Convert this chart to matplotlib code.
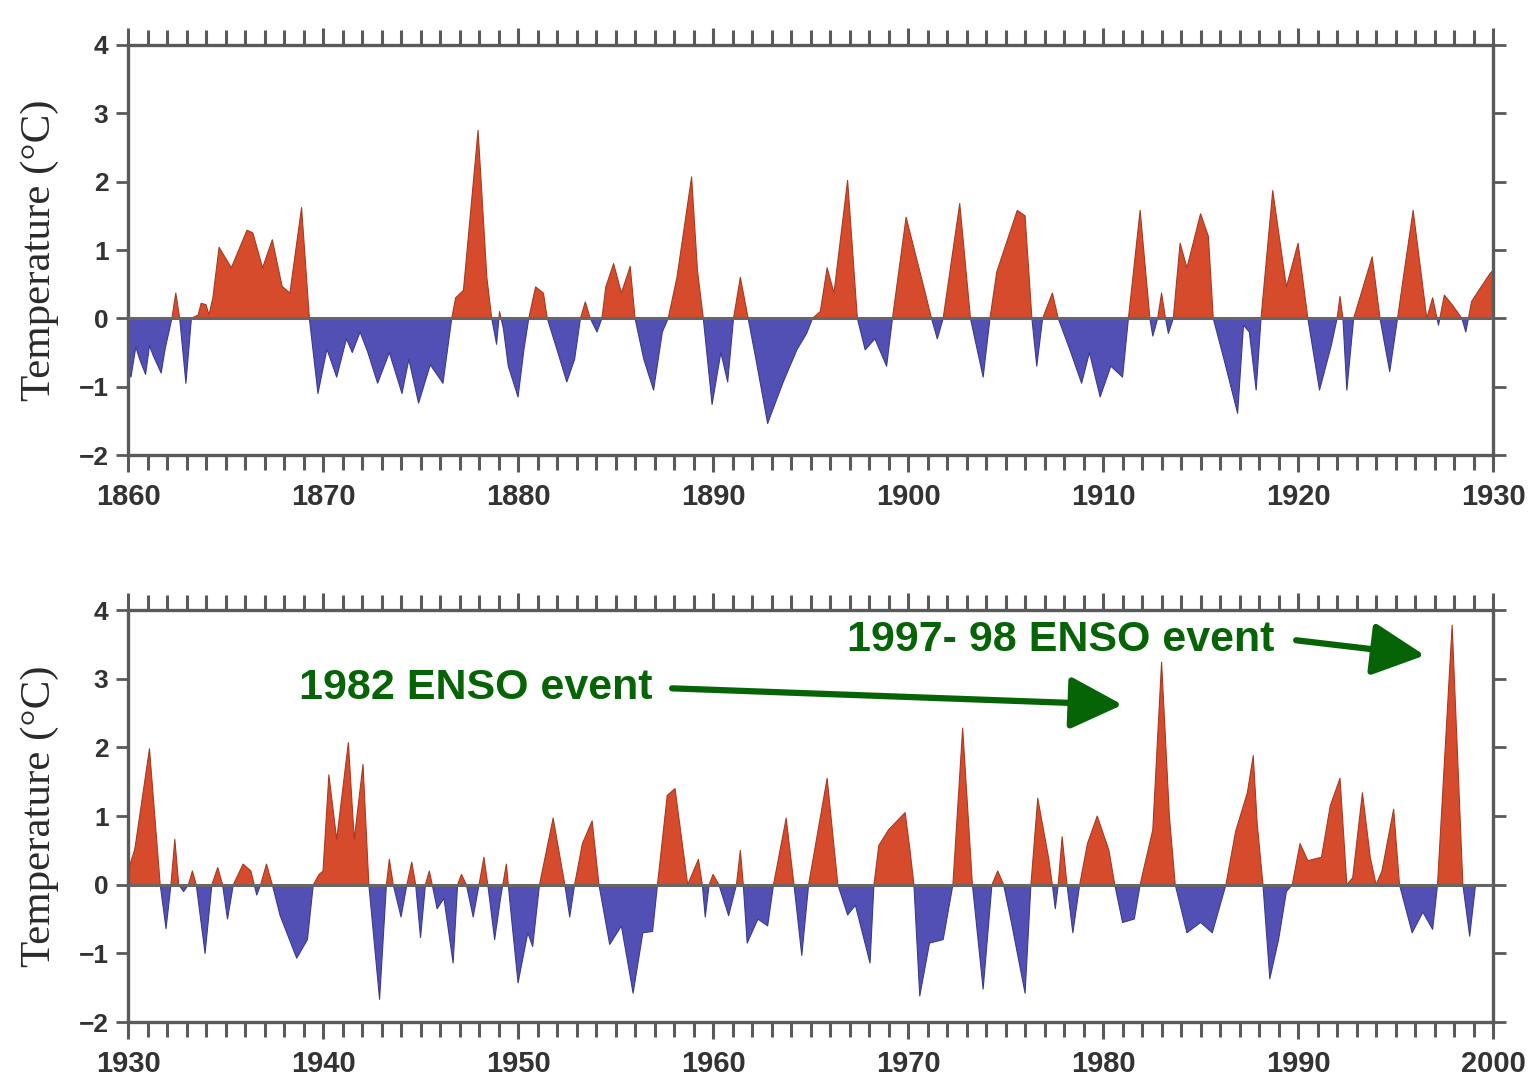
import numpy as np
import matplotlib
matplotlib.use("Agg")
import matplotlib.pyplot as plt
from matplotlib.ticker import MultipleLocator

# ---------------- data ----------------
years_1860 = [1860.0, 1860.15, 1860.4, 1860.6, 1860.9, 1861.1, 1861.3, 1861.7, 1861.9, 1862.25,
              1862.45, 1862.65, 1862.97, 1863.25, 1863.6, 1863.75, 1864.0, 1864.15, 1864.35, 1864.67,
              1865.3, 1866.1, 1866.4, 1866.9, 1867.4, 1867.9, 1868.3, 1868.9, 1869.3, 1869.74,
              1870.2, 1870.7, 1871.2, 1871.5, 1871.9, 1872.3, 1872.8, 1873.4, 1874.05, 1874.4,
              1874.9, 1875.5, 1876.15, 1876.6, 1876.8, 1877.2, 1877.95, 1878.4, 1878.65, 1878.9,
              1879.05, 1879.25, 1879.5, 1880.0, 1880.3, 1880.55, 1880.9, 1881.3, 1881.5, 1882.0,
              1882.5, 1882.9, 1883.2, 1883.45, 1883.7, 1884.05, 1884.3, 1884.5, 1884.9, 1885.3,
              1885.75, 1886.0, 1886.45, 1886.95, 1887.4, 1887.7, 1888.15, 1888.9, 1889.2, 1889.5,
              1889.95, 1890.4, 1890.75, 1891.05, 1891.4, 1891.8, 1892.2, 1892.8, 1892.9, 1893.6,
              1894.3, 1894.8, 1895.1, 1895.5, 1895.85, 1896.2, 1896.9, 1897.4, 1897.8, 1898.3,
              1898.9, 1899.2, 1899.9, 1900.9, 1901.2, 1901.5, 1901.8, 1902.65, 1903.2, 1903.85,
              1904.2, 1904.55, 1905.6, 1906.0, 1906.35, 1906.6, 1906.9, 1907.4, 1907.7, 1908.3,
              1908.9, 1909.3, 1909.85, 1910.4, 1911.0, 1911.3, 1911.9, 1912.4, 1912.55, 1912.8,
              1913.0, 1913.2, 1913.35, 1913.6, 1913.95, 1914.3, 1915.0, 1915.4, 1915.65, 1916.2,
              1916.9, 1917.2, 1917.5, 1917.85, 1918.1, 1918.7, 1919.4, 1920.0, 1920.5, 1921.1,
              1921.7, 1922.0, 1922.15, 1922.3, 1922.5, 1922.85, 1923.8, 1924.2, 1924.7, 1925.1,
              1925.4, 1925.9, 1926.6, 1926.9, 1927.2, 1927.5, 1927.9, 1928.4, 1928.6, 1928.9,
              1929.85, 1930.0]
temps_1860 = [-0.75, -0.86, -0.42, -0.6, -0.82, -0.4, -0.55, -0.8, -0.45, 0.0,
              0.37, 0.0, -0.95, 0.0, 0.05, 0.22, 0.2, 0.05, 0.3, 1.04,
              0.74, 1.29, 1.25, 0.74, 1.15, 0.47, 0.37, 1.62, 0.0, -1.1,
              -0.45, -0.86, -0.3, -0.5, -0.2, -0.5, -0.95, -0.5, -1.1, -0.6,
              -1.24, -0.68, -0.95, 0.0, 0.3, 0.41, 2.75, 0.6, 0.0, -0.38,
              0.1, -0.15, -0.7, -1.15, -0.46, 0.0, 0.46, 0.37, 0.0, -0.46,
              -0.93, -0.6, 0.0, 0.24, 0.0, -0.2, 0.0, 0.46, 0.8, 0.37,
              0.76, 0.0, -0.6, -1.05, -0.2, 0.0, 0.6, 2.07, 0.7, 0.0,
              -1.26, -0.5, -0.93, 0.0, 0.6, 0.0, -0.6, -1.54, -1.46, -0.93,
              -0.46, -0.22, 0.0, 0.1, 0.74, 0.37, 2.02, 0.0, -0.46, -0.3,
              -0.7, 0.0, 1.48, 0.35, 0.0, -0.3, 0.0, 1.68, 0.0, -0.86,
              0.0, 0.68, 1.58, 1.5, 0.0, -0.7, 0.0, 0.37, 0.0, -0.46,
              -0.95, -0.5, -1.15, -0.7, -0.86, 0.0, 1.58, 0.0, -0.26, 0.0,
              0.37, 0.0, -0.22, 0.0, 1.1, 0.74, 1.53, 1.2, 0.0, -0.6,
              -1.39, -0.1, -0.2, -1.05, 0.0, 1.87, 0.46, 1.1, 0.0, -1.05,
              -0.4, 0.0, 0.32, 0.0, -1.05, 0.0, 0.9, 0.0, -0.78, 0.0,
              0.6, 1.58, 0.0, 0.3, -0.1, 0.34, 0.2, 0.0, -0.2, 0.25,
              0.66, 0.7]

years_1930 = [1930.0, 1930.35, 1931.1, 1931.65, 1931.95, 1932.2, 1932.4, 1932.6, 1932.85, 1933.1,
              1933.3, 1933.5, 1933.95, 1934.3, 1934.6, 1934.85, 1935.1, 1935.4, 1935.9, 1936.3,
              1936.6, 1936.8, 1937.1, 1937.4, 1937.8, 1938.65, 1939.2, 1939.5, 1939.8, 1940.0,
              1940.3, 1940.7, 1941.3, 1941.6, 1942.05, 1942.35, 1942.9, 1943.25, 1943.4, 1943.6,
              1944.0, 1944.3, 1944.55, 1944.75, 1945.0, 1945.25, 1945.45, 1945.6, 1945.85, 1946.2,
              1946.67, 1946.9, 1947.1, 1947.35, 1947.7, 1948.0, 1948.25, 1948.45, 1948.8, 1949.1,
              1949.4, 1949.6, 1950.0, 1950.5, 1950.75, 1951.1, 1951.8, 1952.4, 1952.65, 1952.9,
              1953.3, 1953.8, 1954.15, 1954.7, 1955.3, 1955.9, 1956.4, 1956.9, 1957.15, 1957.65,
              1958.05, 1958.7, 1959.25, 1959.45, 1959.6, 1959.8, 1960.0, 1960.3, 1960.8, 1961.2,
              1961.4, 1961.55, 1961.75, 1962.3, 1962.8, 1963.1, 1963.75, 1964.15, 1964.55, 1964.9,
              1965.85, 1966.4, 1966.9, 1967.3, 1968.05, 1968.25, 1968.5, 1969.0, 1969.85, 1970.1,
              1970.3, 1970.6, 1971.1, 1971.8, 1972.3, 1972.8, 1973.3, 1973.85, 1974.3, 1974.6,
              1974.9, 1975.3, 1976.0, 1976.3, 1976.65, 1977.2, 1977.4, 1977.55, 1977.7, 1977.9,
              1978.15, 1978.45, 1978.8, 1979.2, 1979.7, 1980.3, 1980.6, 1981.0, 1981.6, 1981.9,
              1982.1, 1982.55, 1983.0, 1983.4, 1983.7, 1984.3, 1985.0, 1985.6, 1986.1, 1986.3,
              1986.8, 1987.4, 1987.7, 1987.9, 1988.2, 1988.55, 1989.0, 1989.4, 1989.7, 1990.1,
              1990.5, 1991.2, 1991.65, 1992.15, 1992.5, 1992.8, 1993.3, 1993.7, 1994.0, 1994.3,
              1994.9, 1995.2, 1995.85, 1996.4, 1996.9, 1997.15, 1997.9, 1998.45, 1998.8, 1999.1]
temps_1930 = [0.2, 0.52, 1.98, 0.0, -0.64, 0.0, 0.66, 0.0, -0.1, 0.0,
              0.2, 0.0, -1.0, 0.0, 0.25, 0.0, -0.5, 0.0, 0.3, 0.2,
              -0.15, 0.0, 0.3, 0.0, -0.45, -1.07, -0.8, 0.0, 0.15, 0.2,
              1.6, 0.66, 2.07, 0.66, 1.75, 0.0, -1.67, 0.0, 0.37, 0.0,
              -0.47, 0.0, 0.33, 0.0, -0.77, 0.0, 0.2, 0.0, -0.35, -0.2,
              -1.14, 0.0, 0.15, 0.0, -0.47, 0.0, 0.4, 0.0, -0.8, -0.2,
              0.3, -0.3, -1.43, -0.7, -0.9, 0.0, 0.97, 0.0, -0.47, 0.0,
              0.6, 0.93, 0.0, -0.87, -0.6, -1.58, -0.7, -0.68, 0.0, 1.3,
              1.4, 0.0, 0.37, 0.0, -0.47, 0.0, 0.15, 0.0, -0.45, 0.0,
              0.5, 0.0, -0.85, -0.5, -0.6, 0.0, 0.97, 0.0, -1.03, 0.0,
              1.55, 0.0, -0.44, -0.3, -1.14, 0.0, 0.57, 0.8, 1.05, 0.5,
              0.0, -1.62, -0.85, -0.8, 0.0, 2.28, 0.0, -1.52, 0.0, 0.2,
              0.0, -0.55, -1.58, 0.0, 1.26, 0.4, 0.0, -0.35, 0.0, 0.7,
              0.0, -0.7, 0.0, 0.6, 1.0, 0.5, 0.0, -0.55, -0.5, 0.0,
              0.25, 0.8, 3.24, 1.0, 0.0, -0.7, -0.55, -0.7, -0.2, 0.0,
              0.78, 1.34, 1.88, 0.9, 0.0, -1.37, -0.8, -0.1, 0.0, 0.6,
              0.35, 0.4, 1.15, 1.55, 0.0, 0.1, 1.34, 0.4, 0.0, 0.2,
              1.1, 0.0, -0.7, -0.4, -0.65, 0.0, 3.78, 0.0, -0.75, 0.0]

panel_starts = [1860, 1930]
y_ticks = [-2, -1, 0, 1, 2, 3, 4]
y_label = "Temperature (°C)"
label_1982 = "1982 ENSO event"
label_1997 = "1997- 98 ENSO event"
# annotation anchors (data coords of the lower panel): text end, arrow tail, arrow tip
note_1982 = dict(text_xy=(1956.9, 2.86), tail=(1957.9, 2.86), tip=(1981.0, 2.62))
note_1997 = dict(text_xy=(1988.8, 3.56), tail=(1989.9, 3.56), tip=(1996.5, 3.34))

# ---------------- style ----------------
RED = "#d64b2c"
RED_EDGE = "#a8391f"
BLUE = "#5250b4"
BLUE_EDGE = "#3b3a8c"
AXCOL = "#5a5a5a"
GREEN = "#066406"

tick_font = dict(family=["Liberation Sans Narrow", "Liberation Sans", "DejaVu Sans"],
                 weight="bold", size=21)
ylab_font = dict(family=["Liberation Serif", "DejaVu Serif"], size=31)

fig = plt.figure(figsize=(15.35, 10.79), dpi=100)
axes = [fig.add_axes([0.0834, 0.5783, 0.8893, 0.3800]),
        fig.add_axes([0.0834, 0.0528, 0.8893, 0.3818])]

series = [(years_1860, temps_1860), (years_1930, temps_1930)]

for ax, start, (yrs, vals) in zip(axes, panel_starts, series):
    x = np.asarray(yrs, dtype=float)
    y = np.asarray(vals, dtype=float)
    ax.fill_between(x, y, 0, where=y >= 0, interpolate=True,
                    facecolor=RED, edgecolor=RED_EDGE, linewidth=0.8, zorder=2)
    ax.fill_between(x, y, 0, where=y <= 0, interpolate=True,
                    facecolor=BLUE, edgecolor=BLUE_EDGE, linewidth=0.8, zorder=2)
    ax.axhline(0, color="#666666", lw=2.2, zorder=3)
    ax.set_xlim(start, start + 70)
    ax.set_ylim(-2, 4)
    ax.xaxis.set_major_locator(MultipleLocator(10))
    ax.xaxis.set_minor_locator(MultipleLocator(1))
    ax.set_yticks(y_ticks)
    ax.tick_params(axis="x", which="both", direction="out", top=True, bottom=True,
                   labeltop=False, color=AXCOL, width=2.2, pad=8)
    ax.tick_params(axis="x", which="major", length=12)
    ax.tick_params(axis="x", which="minor", length=11)
    ax.tick_params(axis="y", which="major", direction="out", left=True, right=True,
                   length=9, width=2, color=AXCOL, pad=5)
    for lab in ax.get_xticklabels():
        lab.set_fontproperties(matplotlib.font_manager.FontProperties(**tick_font))
        lab.set_color("#333333")
    for lab in ax.get_yticklabels():
        lab.set_fontproperties(matplotlib.font_manager.FontProperties(
            family=tick_font["family"], weight="bold", size=19))
        lab.set_color("#333333")
    for sp in ax.spines.values():
        sp.set_color(AXCOL)
        sp.set_linewidth(2.4)
    ax.set_ylabel(y_label, fontdict=ylab_font, color="#2a2a2a", labelpad=14)

ax2 = axes[1]
for note, label in [(note_1982, label_1982), (note_1997, label_1997)]:
    ax2.text(note["text_xy"][0], note["text_xy"][1], label, ha="right", va="center",
             fontsize=31, fontweight="bold", color=GREEN,
             family=["Liberation Sans", "DejaVu Sans"], zorder=5)
    ax2.annotate("", xy=note["tip"], xytext=note["tail"],
                 arrowprops=dict(arrowstyle="-|>,head_length=0.9,head_width=0.45",
                                 color=GREEN, lw=4.5, mutation_scale=36,
                                 shrinkA=0, shrinkB=0), zorder=5)

fig.savefig("out.png", dpi=100, facecolor="white")
